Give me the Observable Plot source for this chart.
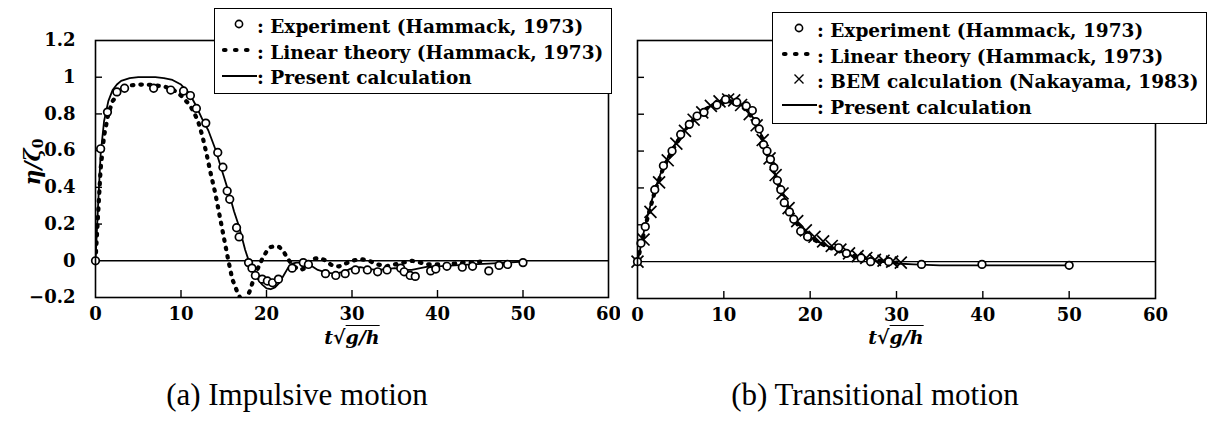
<!DOCTYPE html>
<html>
<head>
<meta charset="utf-8">
<script src="https://cdn.jsdelivr.net/npm/d3@7"></script>
<script src="https://cdn.jsdelivr.net/npm/@observablehq/plot@0.6"></script>
<style>
  body { margin: 0; background: #fff; }
  #fig { position: relative; width: 1207px; height: 423px; background: #fff; overflow: hidden;
         font-family: 'Liberation Serif', 'DejaVu Serif', serif; color: #000; }
  .abs { position: absolute; }
  .legend { position: absolute; background: #fff; border: 1.6px solid #000; box-sizing: border-box;
            font-family: 'DejaVu Serif', serif; font-weight: bold; font-size: 18.5px; line-height: 25.5px; padding-top: 5px; }
  .row { display: flex; align-items: center; white-space: nowrap; height: 25.5px; }
  .sym { display: inline-block; flex: none; }
  .xlab { position: absolute; font-family: 'DejaVu Serif', serif; font-weight: bold; font-style: italic; font-size: 19px; transform: translateX(-50%); white-space: nowrap; }
  .cap { position: absolute; font-size: 31px; white-space: nowrap; transform: translateX(-50%); }
</style>
</head>
<body>
<div id="fig">
  <div id="left" class="abs" style="left:0;top:0"></div>
  <div id="right" class="abs" style="left:600px;top:0"></div>
  <div class="abs" style="left:32px;top:162px;transform:translate(-50%,-50%) rotate(-90deg);font-family:'DejaVu Serif',serif;font-weight:bold;font-style:italic;font-size:22px;white-space:nowrap;">η/ζ<span style="font-size:14px;font-style:normal;vertical-align:-3px">0</span></div>
  <div class="xlab" style="left:352px;top:326px"><i>t</i>√<span style="text-decoration:overline">g/h</span></div>
  <div class="xlab" style="left:896px;top:326px"><i>t</i>√<span style="text-decoration:overline">g/h</span></div>
  <div class="cap" style="left:297px;top:377px">(a) Impulsive motion</div>
  <div class="cap" style="left:875px;top:377px">(b) Transitional motion</div>
  <div id="legL" class="legend" style="left:214px;top:8px;width:398px;height:86px;"></div>
  <div id="legR" class="legend" style="left:772px;top:12px;width:435px;height:112px;"></div>
</div>
<script>
// ---------- data ----------
const xTicks = [0, 10, 20, 30, 40, 50, 60];
const yTicks = [-0.2, 0, 0.2, 0.4, 0.6, 0.8, 1, 1.2];
const innerYTicks = [0.2, 0.4, 0.6, 0.8, 1];
const innerXTicks = [10, 20, 30, 40, 50];

// (a) Impulsive motion
const aExpT = [0, 0.6, 1.4, 2.5, 3.4, 6.8, 8.8, 10.3, 11.1, 11.8, 12.9, 14.3, 14.9, 15.4, 15.7, 16.5, 16.8, 17.9, 18.3, 18.7, 19.5, 20.1, 20.7, 21.4, 23.0, 24.3, 24.9, 26.9, 28.1, 29.2, 30.4, 31.8, 33.0, 34.1, 35.7, 36.1, 36.8, 37.4, 39.2, 39.8, 41.1, 42.9, 44.1, 46.0, 47.2, 48.2, 50.0];
const aExpV = [0, 0.61, 0.81, 0.92, 0.94, 0.94, 0.93, 0.925, 0.90, 0.83, 0.75, 0.59, 0.51, 0.38, 0.335, 0.18, 0.13, -0.01, -0.04, -0.08, -0.10, -0.11, -0.12, -0.10, -0.04, -0.01, -0.02, -0.07, -0.08, -0.07, -0.05, -0.05, -0.06, -0.05, -0.04, -0.06, -0.08, -0.085, -0.055, -0.045, -0.03, -0.035, -0.03, -0.055, -0.025, -0.02, -0.01];

const aLinT = [0, 0.3, 0.6, 1, 1.5, 2, 3, 4, 5, 6, 7, 8, 9, 10, 11, 11.5, 12, 12.5, 13, 13.5, 14, 14.5, 15, 15.5, 16, 16.5, 17, 17.5, 18, 18.5, 19, 19.5, 20, 20.5, 21, 21.5, 22, 22.5, 23, 23.5, 24, 24.5, 25, 25.5, 26, 26.5, 27, 27.5, 28, 28.5, 29, 30, 31, 32, 33, 34, 35, 36, 37, 38, 39, 40, 41, 42, 43, 44, 45];
const aLinV = [0, 0.25, 0.5, 0.68, 0.8, 0.87, 0.93, 0.955, 0.96, 0.96, 0.955, 0.95, 0.935, 0.9, 0.85, 0.81, 0.76, 0.68, 0.58, 0.47, 0.37, 0.25, 0.13, 0.01, -0.1, -0.16, -0.21, -0.22, -0.17, -0.1, -0.04, 0.01, 0.05, 0.075, 0.08, 0.075, 0.05, 0.01, -0.02, -0.04, -0.05, -0.04, -0.01, 0.01, 0.015, 0.01, 0, -0.02, -0.03, -0.03, -0.02, 0, 0.01, 0, -0.02, -0.03, -0.02, -0.01, 0, -0.01, -0.02, -0.02, -0.02, -0.015, -0.01, -0.01, -0.005];

const aCalT = [0, 0.3, 0.6, 1, 1.5, 2, 2.5, 3, 4, 5, 6, 7, 8, 9, 10, 11, 11.7, 12.5, 13.2, 14, 14.4, 15, 15.6, 16.2, 16.8, 17.5, 18, 18.5, 19, 19.5, 20, 20.5, 21, 21.5, 22, 22.5, 23, 23.5, 24, 24.5, 25, 26, 27, 28, 29, 30, 31, 32, 33, 34, 35, 36, 37, 38, 39, 40, 42, 44, 46, 48, 50];
const aCalV = [0, 0.3, 0.58, 0.76, 0.87, 0.93, 0.96, 0.98, 0.995, 1.0, 1.0, 1.0, 0.995, 0.985, 0.96, 0.91, 0.85, 0.77, 0.71, 0.61, 0.55, 0.46, 0.37, 0.27, 0.185, 0.06, -0.01, -0.06, -0.1, -0.13, -0.15, -0.155, -0.145, -0.12, -0.08, -0.04, -0.015, -0.01, -0.01, -0.01, -0.02, -0.05, -0.065, -0.07, -0.06, -0.04, -0.035, -0.045, -0.05, -0.045, -0.04, -0.05, -0.05, -0.04, -0.03, -0.03, -0.025, -0.02, -0.015, -0.01, -0.005];

// (b) Transitional motion
const bExpT = [0, 0.4, 0.9, 2.0, 3.0, 4.0, 5.0, 6.0, 6.9, 7.7, 9.2, 10.2, 11.5, 12.6, 13.3, 13.7, 14.1, 14.6, 15.0, 15.4, 15.8, 16.2, 16.6, 17.0, 17.6, 18.1, 18.9, 19.7, 23.3, 24.2, 25.9, 27.0, 29.1, 32.9, 39.9, 50.0];
const bExpV = [0, 0.1, 0.19, 0.39, 0.52, 0.60, 0.69, 0.745, 0.79, 0.81, 0.85, 0.88, 0.865, 0.845, 0.82, 0.76, 0.72, 0.635, 0.60, 0.555, 0.51, 0.44, 0.39, 0.32, 0.27, 0.23, 0.165, 0.135, 0.075, 0.045, 0.02, 0.0, 0.0, -0.015, -0.015, -0.02];

const bBemT = [0, 0.7, 1.5, 2.5, 3.5, 4.5, 5.5, 6.5, 7.5, 8.5, 9.5, 10.5, 11.2, 12, 13, 13.8, 14.5, 15.3, 16, 16.8, 17.5, 18.5, 19.5, 20.5, 21.5, 22.5, 23.5, 24.5, 25.5, 26.5, 27.5, 28.5, 29.5, 30.5];
const bBemV = [0, 0.12, 0.27, 0.43, 0.55, 0.64, 0.71, 0.77, 0.81, 0.845, 0.87, 0.88, 0.875, 0.85, 0.8, 0.74, 0.66, 0.56, 0.47, 0.37, 0.29, 0.22, 0.17, 0.135, 0.11, 0.085, 0.065, 0.045, 0.03, 0.02, 0.01, 0.005, 0.0, -0.005];

const bLinT = [0, 1, 2, 3, 4, 5, 6, 7, 8, 9, 10, 11, 12, 13, 14, 15, 16, 17, 18, 19, 20, 22, 24, 26, 28, 30];
const bLinV = [0, 0.21, 0.38, 0.51, 0.6, 0.68, 0.745, 0.795, 0.83, 0.855, 0.87, 0.87, 0.85, 0.8, 0.72, 0.6, 0.46, 0.34, 0.24, 0.17, 0.13, 0.08, 0.045, 0.02, 0.005, -0.005];

const bCalT = [0, 1, 2, 3, 4, 5, 6, 7, 8, 9, 10, 11, 12, 13, 14, 15, 16, 17, 18, 19, 20, 21, 22, 23, 24, 25, 26, 27, 28, 30, 32, 35, 40, 45, 50];
const bCalV = [0, 0.22, 0.39, 0.52, 0.61, 0.69, 0.75, 0.8, 0.835, 0.86, 0.875, 0.875, 0.855, 0.81, 0.73, 0.61, 0.47, 0.35, 0.25, 0.18, 0.135, 0.105, 0.085, 0.065, 0.045, 0.03, 0.018, 0.008, 0, -0.01, -0.015, -0.02, -0.02, -0.02, -0.02];

// ---------- helpers ----------
const rows = (T, V) => T.map((t, i) => ({t, v: V[i]}));
const fontFamily = "'DejaVu Serif', 'Liberation Serif', serif";
const fmt = d => d === 0 ? "0" : (d < 0 ? "\u2212" + Math.abs(d) : String(d));

function panel({width, marginLeft, marginRight, marginBottom, yLabels, series}) {
  const height = 340, marginTop = 40;
  const pw = width - marginLeft - marginRight, ph = height - marginTop - marginBottom;
  const marks = [
    Plot.ruleY([0], {strokeWidth: 1.4}),
    Plot.tickX(innerXTicks, {x: d => d, insetTop: ph - 7, strokeWidth: 1.4}),
    Plot.tickY(innerYTicks, {y: d => d, insetRight: pw - 7, strokeWidth: 1.4}),
    ...series,
    Plot.frame({strokeWidth: 1.6}),
    Plot.axisX({ticks: xTicks, tickSize: 0, tickPadding: 10, label: null, tickFormat: fmt})
  ];
  if (yLabels) marks.push(Plot.axisY({ticks: yTicks, tickSize: 0, tickPadding: 20, label: null, tickFormat: fmt}));
  return Plot.plot({
    width, height, marginLeft, marginRight, marginTop, marginBottom,
    x: {domain: [0, 60]},
    y: yLabels ? {domain: [-0.2, 1.2]} : {domain: [-0.2, 1.2], axis: null},
    style: {fontFamily, fontSize: "18px", fontWeight: "bold", background: "transparent", color: "#000"},
    marks
  });
}

const dotted = (data) => Plot.line(data, {x: "t", y: "v", stroke: "#000", strokeWidth: 4.2, strokeDasharray: "1.5,7", strokeLinecap: "round", clip: true});
const solid = (data) => Plot.line(data, {x: "t", y: "v", stroke: "#000", strokeWidth: 1.8, clip: true});
const circles = (data) => Plot.dot(data, {x: "t", y: "v", r: 3.8, fill: "#fff", stroke: "#000", strokeWidth: 1.7});
const crosses = (data) => Plot.dot(data, {x: "t", y: "v", symbol: "times", r: 5.5, stroke: "#000", strokeWidth: 1.7});

document.getElementById("left").append(panel({
  width: 620, marginLeft: 95, marginRight: 12, marginBottom: 43, yLabels: true,
  series: [dotted(rows(aLinT, aLinV)), solid(rows(aCalT, aCalV)), circles(rows(aExpT, aExpV))]
}));
document.getElementById("right").append(panel({
  width: 580, marginLeft: 37, marginRight: 25, marginBottom: 42, yLabels: false,
  series: [dotted(rows(bLinT, bLinV)), solid(rows(bCalT, bCalV)), crosses(rows(bBemT, bBemV)), circles(rows(bExpT, bExpV))]
}));

// ---------- legends ----------
const symSvg = {
  circle: `<svg width="36" height="20"><circle cx="18" cy="10" r="3.6" fill="#fff" stroke="#000" stroke-width="1.6"/></svg>`,
  dots: `<svg width="36" height="20"><line x1="3" y1="11" x2="34" y2="11" stroke="#000" stroke-width="4.2" stroke-dasharray="1.5,9.5" stroke-linecap="round"/></svg>`,
  cross: `<svg width="36" height="20"><path d="M13.5,5.5L22.5,14.5M22.5,5.5L13.5,14.5" stroke="#000" stroke-width="1.4"/></svg>`,
  line: `<svg width="36" height="20"><line x1="1" y1="11" x2="36" y2="11" stroke="#000" stroke-width="1.8"/></svg>`
};
function legend(id, items, padLeft) {
  const el = document.getElementById(id);
  el.style.paddingLeft = padLeft + "px";
  el.innerHTML = items.map(([s, txt]) => `<div class="row"><span class="sym">${symSvg[s]}</span><span>: ${txt}</span></div>`).join("");
}
legend("legL", [["circle", "Experiment (Hammack, 1973)"], ["dots", "Linear theory (Hammack, 1973)"], ["line", "Present calculation"]], 6);
legend("legR", [["circle", "Experiment (Hammack, 1973)"], ["dots", "Linear theory (Hammack, 1973)"], ["cross", "BEM calculation (Nakayama, 1983)"], ["line", "Present calculation"]], 8);
</script>
</body>
</html>
